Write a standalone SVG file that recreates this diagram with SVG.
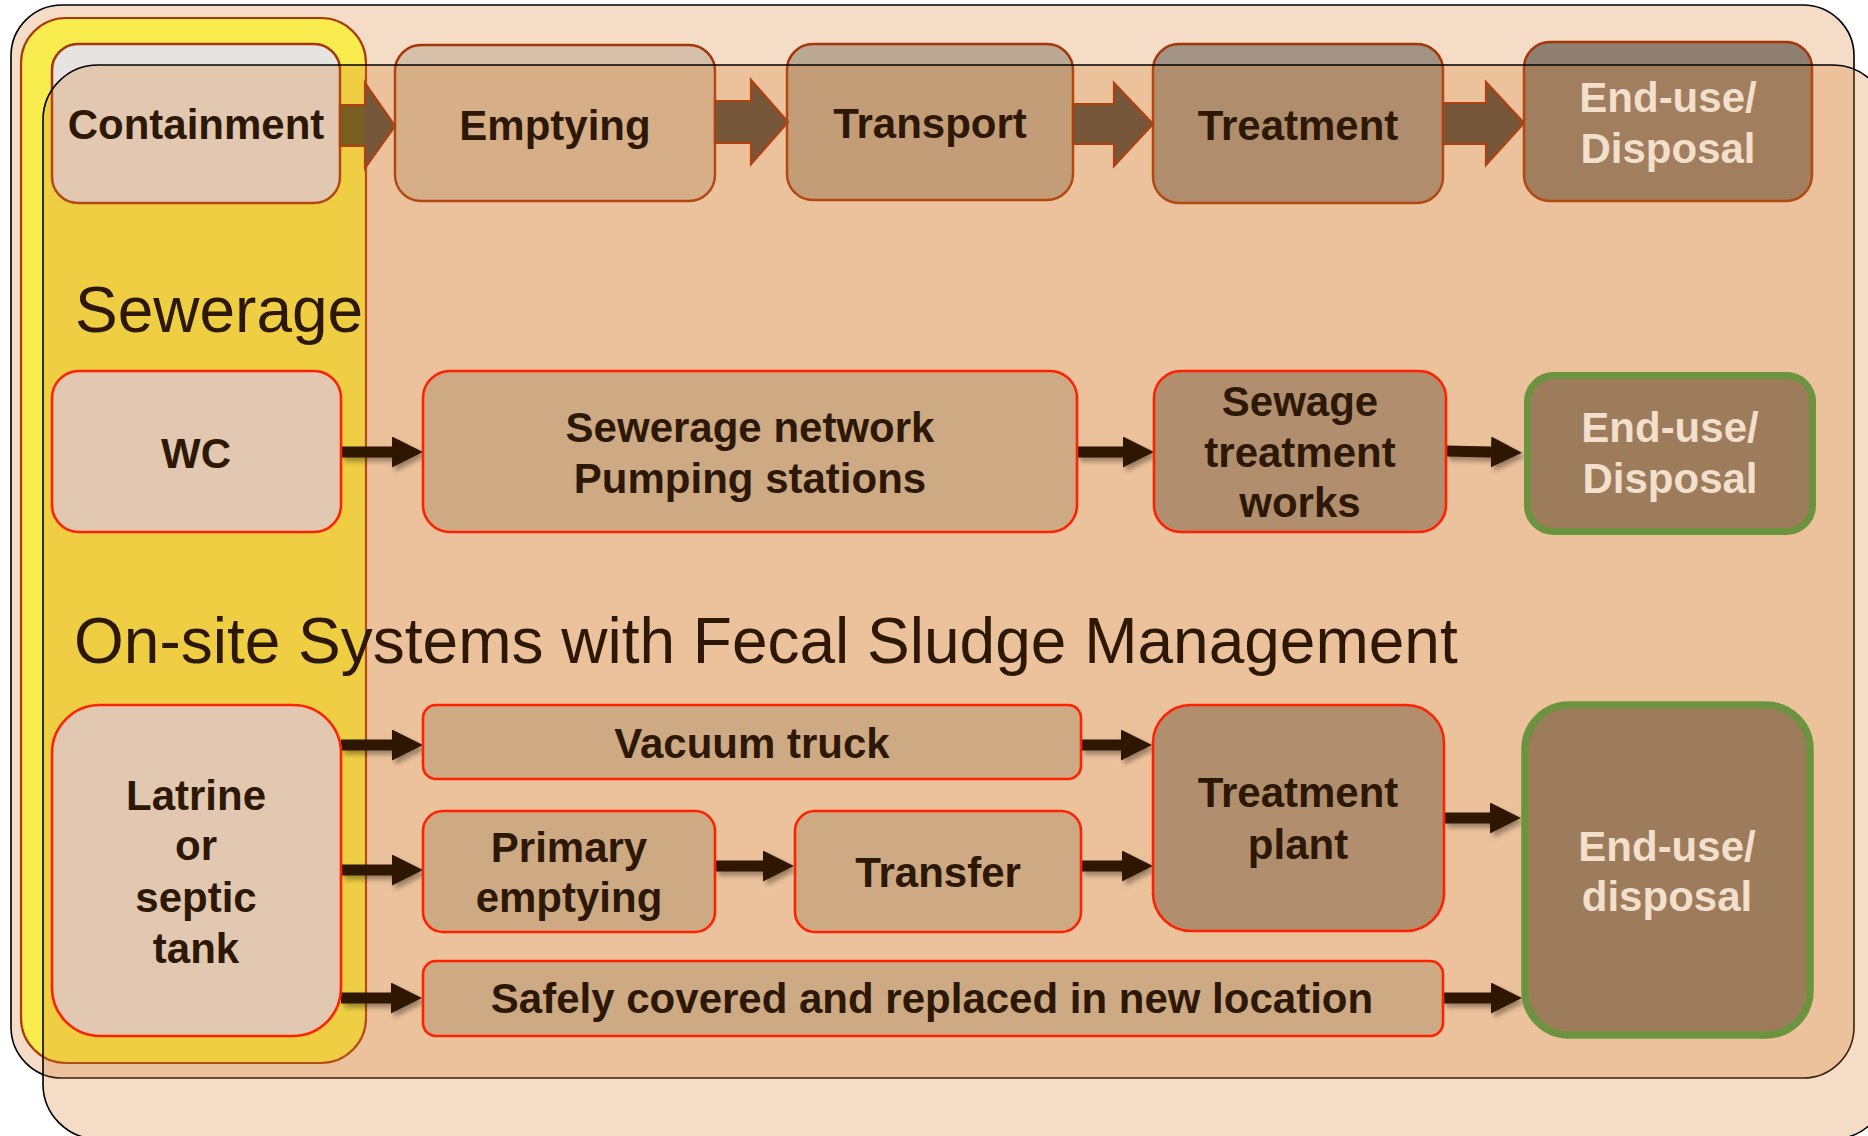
<svg xmlns="http://www.w3.org/2000/svg" width="1868" height="1136" viewBox="0 0 1868 1136">
<defs>
<style>
.panel{fill:#D67D2C;fill-opacity:0.27;stroke:#000;stroke-width:1.6}
.hl{fill:#F9EC4E;stroke:#A83A0C;stroke-width:2.2}
.top{stroke:#A83507;stroke-width:2.5}
.blk{fill:#76573A;stroke:#B0400E;stroke-width:2.2;stroke-linejoin:miter}
.nd{stroke:#FF2200;stroke-width:2.6}
.light{fill:#E2C8B0}
.mid{fill:#CDA984}
.dark{fill:#B18F6E}
.fin{fill:#9D7C5B;stroke:#6C943E}
.t{font-family:"Liberation Sans",Arial,sans-serif;font-weight:bold;font-size:42px;text-anchor:middle;fill:#2D1805}
.tw{fill:#F2DFCC}
.title{font-family:"Liberation Sans",Arial,sans-serif;font-size:64px;fill:#2D1805}
.con{stroke:#2D1805;stroke-width:11;fill:none;marker-end:url(#ah)}
</style>
<marker id="ah" viewBox="0 0 31 31" refX="0" refY="15.5" markerWidth="31" markerHeight="31" markerUnits="userSpaceOnUse" orient="auto">
<path d="M0,0 L31,15.5 L0,31 Z" fill="#2D1805"/>
</marker>
<filter id="sh" x="-10%" y="-50%" width="130%" height="250%">
<feDropShadow dx="3" dy="4" stdDeviation="2.5" flood-color="#000" flood-opacity="0.35"/>
</filter>
</defs>
<rect width="1868" height="1136" fill="#fff"/>
<rect id="panel-back" class="panel" x="11" y="5" width="1843" height="1073" rx="51"/>
<g id="containment-column">
<rect class="hl" x="21" y="18" width="345" height="1045" rx="45"/>
</g>
<g id="top-row">
<g id="n-containment"><rect class="top" fill="#E6E4E1" x="52" y="44" width="288" height="159" rx="26"/></g>
<g id="n-emptying"><rect class="top" fill="#D6C0AA" x="395" y="45" width="320" height="156" rx="26"/></g>
<g id="n-transport"><rect class="top" fill="#BCA994" x="787" y="44" width="286" height="156" rx="26"/></g>
<g id="n-treatment"><rect class="top" fill="#A29384" x="1153" y="44" width="290" height="159" rx="26"/></g>
<g id="n-enduse-top"><rect class="top" fill="#8E7F70" x="1524" y="42" width="288" height="159" rx="26"/></g>
</g>
<rect id="panel-front" class="panel" x="43" y="65" width="1845" height="1074" rx="55"/>
<g id="top-arrows">
<polygon class="blk" points="340,105 365,105 365,83 395,126 365,168 365,146 340,146"/>
<rect x="341.2" y="106.2" width="22.6" height="38.6" fill="#7A6020"/>
<polygon class="blk" points="715,101 751,101 751,80 788,122 751,164 751,143 715,143"/>
<polygon class="blk" points="1073,104 1114,104 1114,83 1153,124 1114,166 1114,144 1073,144"/>
<polygon class="blk" points="1443,103 1486,103 1486,82 1524,123 1486,165 1486,144 1443,144"/>
</g>
<g id="top-labels">
<text class="t" x="196" y="139">Containment</text>
<text class="t" x="555" y="140">Emptying</text>
<text class="t" x="930" y="138">Transport</text>
<text class="t" x="1298" y="140">Treatment</text>
<text class="t tw" x="1668" y="112">End-use/</text>
<text class="t tw" x="1668" y="163">Disposal</text>
</g>
<text class="title" x="75" y="332" font-size="63">Sewerage</text>
<text class="title" x="74" y="663">On-site Systems with Fecal Sludge Management</text>
<g id="connectors" filter="url(#sh)">
<line class="con" x1="341" y1="452" x2="392" y2="452"/>
<line class="con" x1="1077" y1="452" x2="1123" y2="452"/>
<line class="con" x1="1446" y1="451" x2="1491" y2="452"/>
<line class="con" x1="341" y1="745" x2="392" y2="745"/>
<line class="con" x1="341" y1="870" x2="392" y2="870"/>
<line class="con" x1="341" y1="998" x2="391" y2="998"/>
<line class="con" x1="1081" y1="745" x2="1121" y2="745"/>
<line class="con" x1="715" y1="866" x2="763" y2="866"/>
<line class="con" x1="1081" y1="866" x2="1122" y2="866"/>
<line class="con" x1="1444" y1="818" x2="1490" y2="818"/>
<line class="con" x1="1443" y1="998" x2="1491" y2="998"/>
</g>
<g id="n-wc"><rect class="nd light" x="52" y="371" width="289" height="161" rx="27"/><text class="t" x="196" y="468">WC</text></g>
<g id="n-sewer-net"><rect class="nd mid" x="423" y="371" width="654" height="161" rx="27"/><text class="t" x="750" y="442">Sewerage network</text><text class="t" x="750" y="493">Pumping stations</text></g>
<g id="n-stw"><rect class="nd dark" x="1154" y="371" width="292" height="161" rx="27"/><text class="t" x="1300" y="416">Sewage</text><text class="t" x="1300" y="467">treatment</text><text class="t" x="1300" y="517">works</text></g>
<g id="n-enduse-sewer"><rect class="fin" stroke-width="7" x="1527.5" y="375.5" width="285" height="156" rx="26"/><text class="t tw" x="1670" y="442">End-use/</text><text class="t tw" x="1670" y="493">Disposal</text></g>
<g id="n-latrine"><rect class="nd light" x="52" y="705" width="289" height="331" rx="48"/><text class="t" x="196" y="810">Latrine</text><text class="t" x="196" y="860">or</text><text class="t" x="196" y="912">septic</text><text class="t" x="196" y="963">tank</text></g>
<g id="n-vacuum"><rect class="nd mid" x="423" y="705" width="658" height="74" rx="13"/><text class="t" x="752" y="758">Vacuum truck</text></g>
<g id="n-primary"><rect class="nd mid" x="423" y="811" width="292" height="121" rx="20"/><text class="t" x="569" y="862">Primary</text><text class="t" x="569" y="912">emptying</text></g>
<g id="n-transfer"><rect class="nd mid" x="795" y="811" width="286" height="121" rx="20"/><text class="t" x="938" y="887">Transfer</text></g>
<g id="n-safely"><rect class="nd mid" x="423" y="961" width="1020" height="75" rx="13"/><text class="t" x="932" y="1013" font-size="42.7">Safely covered and replaced in new location</text></g>
<g id="n-tplant"><rect class="nd dark" x="1153" y="705" width="291" height="226" rx="38"/><text class="t" x="1298" y="807">Treatment</text><text class="t" x="1298" y="859">plant</text></g>
<g id="n-enduse-fsm"><rect class="fin" stroke-width="7.5" x="1525" y="705" width="285" height="330" rx="44"/><text class="t tw" x="1667" y="861">End-use/</text><text class="t tw" x="1667" y="911">disposal</text></g>
</svg>
